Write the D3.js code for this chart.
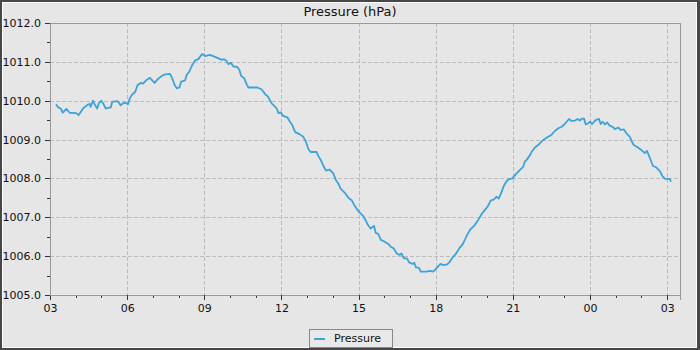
<!DOCTYPE html>
<html>
<head>
<meta charset="utf-8">
<script src="https://cdn.jsdelivr.net/npm/d3@7"></script>
<style>
  html, body { margin: 0; padding: 0; background: #e6e6e6; }
  svg { display: block; font-family: "DejaVu Sans", sans-serif; }
</style>
</head>
<body>
<svg id="chart" width="700" height="350"></svg>
<script>
// Station pressure readings, clock time (HH:MM) and value in hPa.
const times = [
  "03:14","03:19","03:25","03:30","03:38","03:46","04:01","04:07","04:17","04:27",
  "04:33","04:35","04:40","04:44","04:50","04:54","05:00","05:06","05:10","05:22",
  "05:25","05:36","05:40","05:45","05:50","05:56","06:02","06:06","06:11","06:19",
  "06:24","06:32","06:37","06:45","06:53","06:58","07:04","07:12","07:21","07:29",
  "07:40","07:45","07:51","07:56","08:02","08:06","08:15","08:19","08:25","08:31",
  "08:38","08:46","08:52","08:55","09:02","09:13","09:25","09:33","09:41","09:46",
  "09:52","09:56","10:02","10:08","10:17","10:22","10:26","10:33","10:39","10:43",
  "10:58","11:04","11:14","11:22","11:29","11:37","11:45","11:49","11:53","11:58",
  "12:04","12:14","12:20","12:25","12:32","12:42","12:51","12:57","13:03","13:08",
  "13:22","13:26","13:32","13:38","13:44","13:52","14:01","14:07","14:13","14:18",
  "14:28","14:36","14:44","14:49","14:55","15:01","15:11","15:17","15:22","15:28",
  "15:36","15:40","15:46","15:52","16:01","16:11","16:15","16:22","16:29","16:36",
  "16:40","16:46","16:53","16:58","17:06","17:10","17:14","17:21","17:25","17:39",
  "17:46","17:54","18:02","18:11","18:17","18:27","18:33","18:41","18:47","18:55",
  "19:03","19:08","19:13","19:21","19:31","19:39","19:47","19:55","20:02","20:08",
  "20:16","20:22","20:27","20:34","20:39","20:45","20:51","20:59","21:07","21:15",
  "21:24","21:28","21:33","21:40","21:44","21:51","22:01","22:11","22:22","22:30",
  "22:38","22:46","22:54","23:01","23:11","23:17","23:25","23:31","23:36","23:42",
  "23:46","23:50","23:56","00:00","00:05","00:13","00:21","00:25","00:29","00:35",
  "00:40","00:46","00:54","00:58","01:06","01:11","01:19","01:25","01:33","01:37",
  "01:42","01:50","02:00","02:08","02:13","02:20","02:27","02:35","02:43","02:49",
  "02:55","03:02","03:06","03:09"
];
const pressure = [
  1009.91,1009.83,1009.80,1009.69,1009.79,1009.69,1009.68,1009.63,1009.80,1009.89,
  1009.92,1009.84,1010.00,1009.91,1009.80,1009.93,1010.00,1009.89,1009.80,1009.83,
  1009.97,1009.99,1009.96,1009.88,1009.93,1009.95,1009.91,1010.06,1010.15,1010.23,
  1010.40,1010.46,1010.44,1010.53,1010.59,1010.53,1010.46,1010.56,1010.64,1010.68,
  1010.69,1010.58,1010.40,1010.32,1010.34,1010.49,1010.52,1010.66,1010.75,1010.90,
  1011.03,1011.07,1011.16,1011.20,1011.15,1011.18,1011.13,1011.09,1011.05,1011.07,
  1011.02,1010.94,1010.98,1010.88,1010.87,1010.79,1010.64,1010.58,1010.42,1010.34,
  1010.34,1010.34,1010.29,1010.17,1010.10,1009.93,1009.85,1009.80,1009.68,1009.70,
  1009.61,1009.57,1009.46,1009.38,1009.19,1009.14,1009.07,1008.95,1008.75,1008.68,
  1008.68,1008.58,1008.47,1008.32,1008.20,1008.23,1008.13,1007.96,1007.86,1007.74,
  1007.63,1007.50,1007.44,1007.33,1007.23,1007.14,1007.03,1006.91,1006.80,1006.71,
  1006.78,1006.60,1006.57,1006.42,1006.37,1006.30,1006.24,1006.20,1006.07,1006.03,
  1006.07,1005.94,1005.94,1005.84,1005.80,1005.83,1005.71,1005.70,1005.60,1005.60,
  1005.62,1005.60,1005.69,1005.80,1005.77,1005.79,1005.86,1005.99,1006.06,1006.20,
  1006.31,1006.42,1006.54,1006.69,1006.80,1006.93,1007.08,1007.19,1007.29,1007.43,
  1007.46,1007.53,1007.48,1007.66,1007.81,1007.92,1007.98,1008.00,1008.11,1008.20,
  1008.30,1008.43,1008.49,1008.60,1008.69,1008.79,1008.88,1008.99,1009.07,1009.12,
  1009.22,1009.29,1009.33,1009.40,1009.53,1009.48,1009.49,1009.53,1009.49,1009.54,
  1009.54,1009.39,1009.42,1009.46,1009.40,1009.50,1009.53,1009.40,1009.46,1009.39,
  1009.44,1009.36,1009.32,1009.27,1009.31,1009.25,1009.26,1009.16,1009.07,1008.96,
  1008.86,1008.81,1008.73,1008.65,1008.71,1008.52,1008.32,1008.28,1008.19,1008.06,
  1007.99,1007.99,1007.99,1007.92
];
const yTicks = [1005, 1006, 1007, 1008, 1009, 1010, 1011, 1012];
const seriesName = "Pressure";
const chartTitle = "Pressure (hPa)";

// Turn the clock times into dates, rolling over to the next day after midnight.
const day0 = new Date(2024, 0, 1);
let dayOffset = 0, prevMin = -1;
const data = times.map((t, i) => {
  const [h, m] = t.split(":").map(Number);
  const mins = h * 60 + m;
  if (mins < prevMin) dayOffset += 1;
  prevMin = mins;
  const d = new Date(day0);
  d.setDate(d.getDate() + dayOffset);
  d.setHours(h, m, 0, 0);
  return { date: d, value: pressure[i] };
});

const W = 700, H = 350;
const plot = { left: 50, top: 23, right: 680, bottom: 295 };

const svg = d3.select("#chart");

// Frame around the whole chart
svg.append("rect").attr("x", 0).attr("y", 0).attr("width", W).attr("height", H).attr("fill", "#474747");
svg.append("rect").attr("x", 2).attr("y", 2).attr("width", W - 5).attr("height", H - 4).attr("fill", "#ffffff");
svg.append("rect").attr("x", 3).attr("y", 3).attr("width", W - 7).attr("height", H - 6).attr("fill", "#e6e6e6");

const start = new Date(2024, 0, 1, 3, 0);
const end = new Date(2024, 0, 2, 3, 30);
const x = d3.scaleTime().domain([start, end]).range([plot.left, plot.right]);
const y = d3.scaleLinear().domain([1005, 1012]).range([plot.bottom, plot.top]);

// Grid
const grid = svg.append("g").attr("stroke", "#bcbcbc").attr("stroke-dasharray", "4,2")
  .attr("shape-rendering", "crispEdges");
grid.selectAll("line.h").data(yTicks.filter(v => v > 1005 && v < 1012)).join("line")
  .attr("x1", plot.left).attr("x2", plot.right)
  .attr("y1", d => Math.round(y(d)) + 0.5).attr("y2", d => Math.round(y(d)) + 0.5);
grid.selectAll("line.v").data(x.ticks(d3.timeHour.every(3)).filter(d => x(d) > plot.left)).join("line")
  .attr("y1", plot.top).attr("y2", plot.bottom)
  .attr("x1", d => Math.round(x(d)) + 0.5).attr("x2", d => Math.round(x(d)) + 0.5);

// Plot border
svg.append("rect")
  .attr("x", plot.left + 0.5).attr("y", plot.top + 0.5)
  .attr("width", plot.right - plot.left).attr("height", plot.bottom - plot.top)
  .attr("fill", "none").attr("stroke", "#999").attr("shape-rendering", "crispEdges");

// Axes
const xAxis = d3.axisBottom(x).ticks(d3.timeHour.every(3)).tickFormat(d3.timeFormat("%H"))
  .tickSize(5).tickPadding(4);
const xMinor = d3.axisBottom(x).ticks(d3.timeHour.every(1)).tickFormat("").tickSize(3);
const yAxis = d3.axisLeft(y).tickValues(yTicks).tickFormat(d3.format(".1f")).tickSize(5).tickPadding(4);
const yMinor = d3.axisLeft(y).tickValues(d3.range(1005.5, 1012, 1)).tickFormat("").tickSize(3);

function styleAxis(g) {
  g.select(".domain").attr("stroke", "#999");
  g.selectAll(".tick line").attr("stroke", "#333");
  g.selectAll("text").attr("fill", "#111").style("font-size", "11px")
    .style("font-family", "'DejaVu Sans', sans-serif");
  g.attr("shape-rendering", "crispEdges");
}
svg.append("g").attr("transform", `translate(0,${plot.bottom})`).call(xMinor).call(styleAxis);
svg.append("g").attr("transform", `translate(0,${plot.bottom})`).call(xAxis).call(styleAxis);
svg.append("g").attr("transform", `translate(${plot.left},0)`).call(yMinor).call(styleAxis);
svg.append("g").attr("transform", `translate(${plot.left},0)`).call(yAxis).call(styleAxis);

// Series line
const line = d3.line().x(d => x(d.date)).y(d => y(d.value));
svg.append("path").datum(data)
  .attr("d", line)
  .attr("fill", "none")
  .attr("stroke", "#3ea3d8")
  .attr("stroke-width", 1.8)
  .attr("stroke-linejoin", "round");

// Title
svg.append("text").attr("x", W / 2).attr("y", 16).attr("text-anchor", "middle")
  .style("font-size", "13px").attr("fill", "#111").text(chartTitle);

// Legend
const lg = svg.append("g");
lg.append("rect").attr("x", 309.5).attr("y", 329.5).attr("width", 83).attr("height", 18)
  .attr("fill", "#e9e9e9").attr("stroke", "#888").attr("shape-rendering", "crispEdges");
lg.append("line").attr("x1", 314).attr("x2", 325).attr("y1", 339).attr("y2", 339)
  .attr("stroke", "#3ea3d8").attr("stroke-width", 2);
lg.append("text").attr("x", 334).attr("y", 342).style("font-size", "11px").attr("fill", "#111")
  .text(seriesName);
</script>
</body>
</html>
